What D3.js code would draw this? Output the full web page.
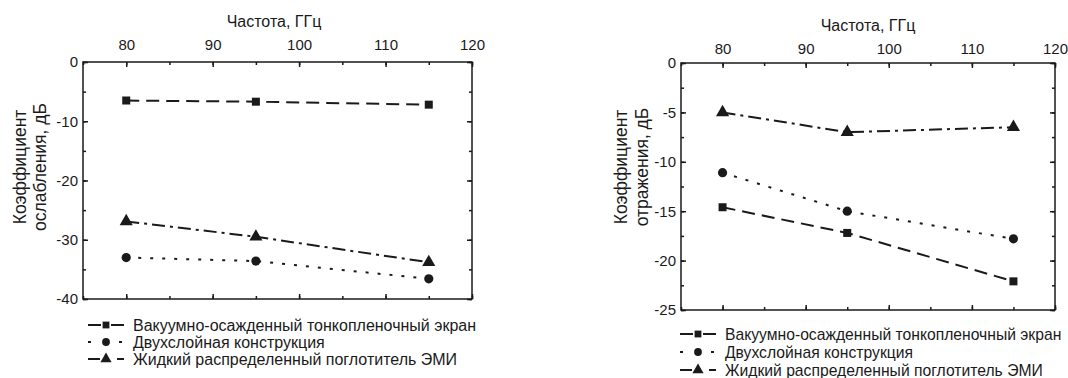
<!DOCTYPE html>
<html>
<head>
<meta charset="utf-8">
<script src="https://cdn.jsdelivr.net/npm/d3@7"></script>
<style>
  body { margin: 0; background: #fff; }
  svg { font-family: "Liberation Sans", Arial, sans-serif; fill: #1a1a1a; }
  .axis path, .axis line { stroke: #1a1a1a; stroke-width: 1.5; }
  .axis text { font-size: 15px; fill: #1a1a1a; }
</style>
</head>
<body>
<svg width="1068" height="378"></svg>
<script>
// data
const freq = [80, 95, 115];
const seriesNames = [
  "Вакуумно-осажденный тонкопленочный экран",
  "Двухслойная конструкция",
  "Жидкий распределенный поглотитель ЭМИ"
];
const attenVacuum = [-6.5, -6.7, -7.2];
const attenDouble = [-33.0, -33.6, -36.6];
const attenLiquid = [-26.9, -29.5, -33.8];
const reflVacuum = [-14.6, -17.2, -22.1];
const reflDouble = [-11.1, -15.0, -17.8];
const reflLiquid = [-5.0, -7.0, -6.5];
const xTicks = [80, 90, 100, 110, 120];
const attenTicks = [0, -10, -20, -30, -40];
const reflTicks = [0, -5, -10, -15, -20, -25];

const xTitle = "Частота, ГГц";

const dashes = ["13,7", "3,9", "13,5,3,5"];
const legendDashes = ["13,10", "3,12.5", "12,17"];
const markers = ["square", "circle", "triangle"];

const svg = d3.select("svg");
const ink = "#1a1a1a";
const fmt = d => String(d); // plain hyphen minus, as in the picture

function panel(opt) {
  const g = svg.append("g");
  const x = d3.scaleLinear().domain([75, 120]).range([opt.left, opt.right]);
  const y = d3.scaleLinear().domain(opt.yDomain).range([opt.top, opt.bottom]);

  const minorX = d3.range(75, 121, 5);
  const yStep = opt.yTicks[0] - opt.yTicks[1];
  const minorY = d3.range(opt.yDomain[0], opt.yDomain[1] - 0.01, -yStep / 2);

  // frame
  g.append("rect")
    .attr("x", opt.left).attr("y", opt.top)
    .attr("width", opt.right - opt.left).attr("height", opt.bottom - opt.top)
    .attr("fill", "none").attr("stroke", ink).attr("stroke-width", 1.5);

  // minor ticks
  const minor = [
    [d3.axisTop(x), opt.top, 0, minorX],
    [d3.axisBottom(x), opt.bottom, 0, minorX],
    [d3.axisLeft(y), opt.left, 1, minorY],
    [d3.axisRight(y), opt.right, 1, minorY]
  ];
  minor.forEach(([ax, pos, vert, vals]) => {
    g.append("g").attr("class", "axis")
      .attr("transform", vert ? `translate(${pos},0)` : `translate(0,${pos})`)
      .call(ax.tickValues(vals).tickSize(-3).tickFormat(""))
      .call(s => s.select(".domain").remove());
  });

  // major ticks
  g.append("g").attr("class", "axis")
    .attr("transform", `translate(0,${opt.top})`)
    .call(d3.axisTop(x).tickValues(xTicks).tickSize(-5).tickFormat(fmt).tickPadding(opt.xPad))
    .call(s => s.select(".domain").remove());
  g.append("g").attr("class", "axis")
    .attr("transform", `translate(0,${opt.bottom})`)
    .call(d3.axisBottom(x).tickValues(xTicks).tickSize(-5).tickFormat(""))
    .call(s => s.select(".domain").remove());
  g.append("g").attr("class", "axis")
    .attr("transform", `translate(${opt.left},0)`)
    .call(d3.axisLeft(y).tickValues(opt.yTicks).tickSize(-5).tickFormat(fmt).tickPadding(5))
    .call(s => s.select(".domain").remove());
  g.append("g").attr("class", "axis")
    .attr("transform", `translate(${opt.right},0)`)
    .call(d3.axisRight(y).tickValues(opt.yTicks).tickSize(-5).tickFormat(""))
    .call(s => s.select(".domain").remove());

  // titles
  g.append("text")
    .attr("x", opt.titleX).attr("y", opt.titleY)
    .attr("text-anchor", "middle").attr("font-size", 16)
    .text(xTitle);
  const yl = g.append("text")
    .attr("transform", `translate(${opt.yLabelX},${opt.yLabelY}) rotate(-90)`)
    .attr("text-anchor", "middle").attr("font-size", 17.5);
  yl.append("tspan").attr("x", 0).attr("dy", 0).text(opt.yLabel[0]);
  yl.append("tspan").attr("x", 0).attr("dy", opt.yLabelGap).text(opt.yLabel[1]);

  // series
  const line = d3.line().x((d, i) => x(freq[i])).y(d => y(d));
  opt.series.forEach((vals, k) => {
    g.append("path")
      .datum(vals)
      .attr("d", line)
      .attr("fill", "none").attr("stroke", ink).attr("stroke-width", 2)
      .attr("stroke-dasharray", dashes[k]);
    vals.forEach((v, i) => drawMarker(g, markers[k], x(freq[i]), y(v)));
  });

  // legend
  opt.legendY.forEach((ly, k) => {
    g.append("line")
      .attr("x1", opt.legendX).attr("x2", opt.legendX + 36)
      .attr("y1", ly).attr("y2", ly)
      .attr("stroke", ink).attr("stroke-width", 2)
      .attr("stroke-dasharray", legendDashes[k]);
    drawMarker(g, markers[k], opt.legendX + 18, ly, 0.85);
    g.append("text")
      .attr("x", opt.legendX + 45).attr("y", ly)
      .attr("dy", "0.36em").attr("font-size", opt.legendFont)
      .text(seriesNames[k]);
  });
}

function drawMarker(g, type, cx, cy, s = 1) {
  if (type === "square") {
    const h = 4 * s;
    g.append("rect").attr("x", cx - h).attr("y", cy - h)
      .attr("width", 2 * h).attr("height", 2 * h).attr("fill", ink);
  } else if (type === "circle") {
    g.append("circle").attr("cx", cx).attr("cy", cy).attr("r", 4.6 * s).attr("fill", ink);
  } else {
    g.append("path")
      .attr("d", d3.symbol(d3.symbolTriangle, 75 * s * s)())
      .attr("transform", `translate(${cx},${cy})`)
      .attr("fill", ink);
  }
}

panel({
  left: 83, right: 472, top: 62, bottom: 299,
  yDomain: [0, -40], yTicks: attenTicks,
  series: [attenVacuum, attenDouble, attenLiquid],
  titleX: 274, titleY: 27, xPad: 12,
  yLabel: ["Коэффициент", "ослабления, дБ"], yLabelX: 26, yLabelY: 167, yLabelGap: 20,
  legendX: 88, legendY: [325, 342, 359], legendFont: 16
});

panel({
  left: 681, right: 1055, top: 63, bottom: 310,
  yDomain: [0, -25], yTicks: reflTicks,
  series: [reflVacuum, reflDouble, reflLiquid],
  titleX: 868, titleY: 31, xPad: 9,
  yLabel: ["Коэффициент", "отражения, дБ"], yLabelX: 627, yLabelY: 167, yLabelGap: 21,
  legendX: 680, legendY: [334, 352, 370], legendFont: 15.7
});
</script>
</body>
</html>
